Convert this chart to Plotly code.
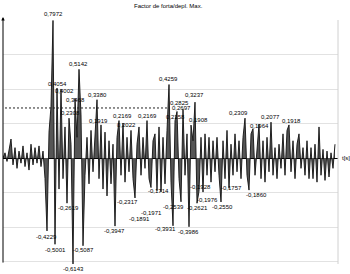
import plotly.graph_objects as go

# time step 0.1 s, one sample per index
dt = 0.1
values = [
    0.00, 0.03, -0.02, 0.05, 0.11, -0.04, 0.06, -0.06, 0.04, -0.03,
    0.07, -0.05, 0.03, -0.07, 0.08, -0.04, 0.06, -0.03, 0.07, -0.05,
    0.04, -0.12, -0.4229, 0.15, 0.30, 0.7972, -0.5001, 0.4054, -0.18, 0.4002,
    -0.12, 0.18, -0.2619, 0.2308, 0.08, -0.6143, 0.3468, 0.12, 0.5142, 0.25,
    -0.5087, -0.10, 0.12, -0.15, 0.16, -0.08, 0.10, 0.3380, -0.12, 0.1919,
    -0.18, 0.15, -0.22, 0.10, -0.15, 0.08, -0.3947, 0.12, 0.2169, -0.10,
    0.2022, -0.14, 0.12, -0.08, 0.16, -0.12, -0.2317, 0.08, 0.18, -0.10,
    0.12, -0.06, 0.2169, -0.12, -0.1714, 0.10, 0.14, -0.1891, 0.18, -0.1971,
    0.12, -0.15, 0.16, 0.4259, -0.14, -0.3931, 0.2158, 0.2697, -0.12, -0.2539,
    0.2825, -0.10, 0.14, -0.3986, 0.1908, 0.10, 0.3237, -0.2621, -0.1928, 0.12,
    -0.1976, 0.14, -0.10, 0.12, -0.14, 0.10, -0.08, 0.12, -0.10, -0.2550,
    0.10, -0.12, 0.16, -0.1757, 0.08, -0.10, 0.14, -0.08, 0.10, -0.12,
    0.12, 0.2309, -0.10, -0.1860, 0.14, 0.17, -0.10, 0.08, 0.1964, -0.12,
    0.10, -0.14, 0.12, -0.08, 0.2077, -0.10, 0.06, -0.12, 0.08, -0.06,
    0.14, -0.10, 0.16, 0.1918, -0.08, 0.10, -0.12, 0.08, 0.14, -0.06,
    0.06, -0.10, 0.10, -0.12, 0.06, -0.12, 0.08, -0.14, 0.18, -0.10,
    0.05, -0.13, 0.04, -0.11, 0.03, -0.06, 0.08,
]
times = [i * dt for i in range(len(values))]

# indices of labelled peaks
label_idx = [25, 27, 29, 33, 36, 38, 47, 49, 58, 60, 72, 83, 86, 87, 90, 94, 96,
             121, 128, 134, 143,
             22, 26, 32, 35, 40, 56, 66, 74, 77, 79, 85, 89, 93, 97, 98, 100,
             109, 113, 123]
# label offsets in pixels (dx right, dy down) relative to the peak
label_dx = [0, 0, 3, 1, 0, -1, 0, -3, 3, 3, 0, -1, 0, 4, -4, 7, -1,
            -7, 0, -1, 2,
            -1, 0, 1, 0, 0, -1, -8, 7, -18, -10, -8, -8, -1, 0, 1, 4,
            1, 2, 7]
label_dy = [-6, -4, 2, -5, 2, -5, -5, -4, -5, 2, -5, -6, -4, -3, -6, -5, -7,
            -5, 2, -5, -4,
            6, 6, 5, 5, 4, 5, 4, 3, 28, 21, 3, 5, 5, 5, -4, 8,
            5, 0, 5]

threshold = 0.29

fig = go.Figure()
fig.add_trace(go.Scatter(
    x=times, y=values, mode="lines",
    line=dict(color="#111111", width=0.9),
    fill="tozeroy", fillcolor="#555555",
    hoverinfo="skip", showlegend=False,
))

font = dict(family="Liberation Sans, Arial, sans-serif", size=6, color="#000000")
ann = []
for k, i in enumerate(label_idx):
    v = values[i]
    ann.append(dict(
        x=times[i], y=v, xref="x", yref="y",
        text=f"{v:.4f}".replace(".", ","), showarrow=False,
        xanchor="center", yanchor="middle",
        xshift=label_dx[k], yshift=-label_dy[k], font=font,
    ))

ann.append(dict(x=0.495, y=1.058, xref="paper", yref="paper",
                text="Factor de forta/depl. Max.", showarrow=False,
                xanchor="center", yanchor="middle", font=font))
ann.append(dict(x=1.0, y=0, xref="paper", yref="y", xshift=2,
                text="t[s]", showarrow=False,
                xanchor="left", yanchor="middle", font=font))
# vertical axis with arrow
ann.append(dict(x=0, y=1.012, xref="paper", yref="paper", text="",
                showarrow=True, ax=0, ay=247, axref="pixel", ayref="pixel",
                arrowhead=2, arrowsize=0.7, arrowwidth=1, arrowcolor="#000000"))

shapes = [
    dict(type="line", xref="paper", yref="paper", x0=1, x1=1, y0=0, y1=1,
         line=dict(color="#d0d0d0", width=1)),
    dict(type="line", xref="x", yref="y", x0=0.1, x1=8.35, y0=threshold, y1=threshold,
         line=dict(color="#222222", width=1, dash="2px,2px")),
]

fig.update_layout(
    width=350, height=274,
    margin=dict(l=3, r=12, t=20, b=10),
    paper_bgcolor="white", plot_bgcolor="white",
    annotations=ann, shapes=shapes,
    xaxis=dict(range=[0, 16.75], showgrid=False, zeroline=False,
               showticklabels=False, ticks="", showline=False),
    yaxis=dict(range=[-0.6145, 0.8], tickvals=[-0.6, -0.4, -0.2, 0.2, 0.4, 0.6, 0.8],
               showgrid=True, gridcolor="#e2e2e2", gridwidth=1,
               zeroline=True, zerolinecolor="#000000", zerolinewidth=1,
               showticklabels=False, ticks="", showline=False),
)

fig.write_html("out.html")
